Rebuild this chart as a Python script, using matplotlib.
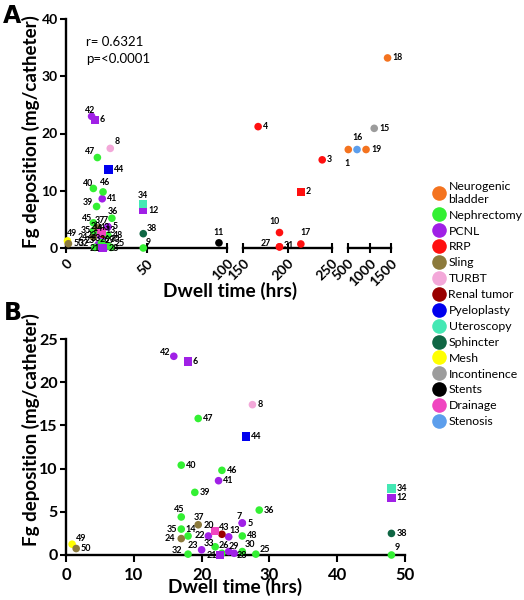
import matplotlib
matplotlib.use('Agg')
import matplotlib.pyplot as plt
from matplotlib.lines import Line2D

# ---------------- data ----------------
ids = list(range(1, 51))
dwell = [507, 215, 239, 167, 26.0, 18.0, 26.0, 27.5, 48.0, 191,
         95, 48.0, 24.0, 18.0, 1110, 710, 215, 1420, 920, 22.0,
         22.7, 21.0, 20.0, 17.0, 28.0, 23.0, 191, 24.8, 24.0, 26.0,
         191, 18.0, 22.0, 48.0, 17.0, 28.5, 19.5, 48.0, 19.0, 17.0,
         22.5, 15.9, 23.0, 26.5, 17.0, 23.0, 19.5, 26.0, 0.9, 1.5]
fg = [17.2, 9.8, 15.4, 21.2, 3.7, 22.4, 3.7, 17.4, 0.0, 2.7,
      0.9, 6.6, 2.1, 2.2, 20.9, 17.2, 0.7, 33.2, 17.2, 2.8,
      0.0, 2.2, 0.6, 1.9, 0.1, 0.2, 0.2, 0.2, 0.4, 0.4,
      0.2, 0.1, 0.95, 7.7, 3.0, 5.2, 3.5, 2.5, 7.25, 10.4,
      8.6, 23.0, 2.4, 13.7, 4.4, 9.8, 15.8, 2.2, 1.25, 0.75]
procedure = ["Neurogenic bladder", "RRP", "RRP", "RRP", "PCNL", "PCNL", "PCNL", "TURBT", "Nephrectomy", "RRP",
             "Stents", "PCNL", "PCNL", "Nephrectomy", "Incontinence", "Stenosis", "RRP", "Neurogenic bladder", "Neurogenic bladder", "Drainage",
             "PCNL", "PCNL", "PCNL", "Sling", "Nephrectomy", "Nephrectomy", "RRP", "PCNL", "PCNL", "Nephrectomy",
             "RRP", "Nephrectomy", "Nephrectomy", "Uteroscopy", "Nephrectomy", "Nephrectomy", "Sling", "Sphincter", "Nephrectomy", "Nephrectomy",
             "PCNL", "PCNL", "Renal tumor", "Pyeloplasty", "Nephrectomy", "Nephrectomy", "Nephrectomy", "Nephrectomy", "Mesh", "Sling"]
square_ids = [2, 6, 12, 20, 21, 34, 44]

categories = ["Neurogenic bladder", "Nephrectomy", "PCNL", "RRP", "Sling", "TURBT",
              "Renal tumor", "Pyeloplasty", "Uteroscopy", "Sphincter", "Mesh",
              "Incontinence", "Stents", "Drainage", "Stenosis"]
legend_labels = ["Neurogenic\nbladder", "Nephrectomy", "PCNL", "RRP", "Sling", "TURBT",
                 "Renal tumor", "Pyeloplasty", "Uteroscopy", "Sphincter", "Mesh",
                 "Incontinence", "Stents", "Drainage", "Stenosis"]
cat_colors = ["#F4731F", "#33F033", "#A020E6", "#FF1010", "#8C7A3C", "#F3A8D9",
              "#990000", "#0000EE", "#44E8B4", "#0F6644", "#FFFF00",
              "#9C9C9C", "#000000", "#F045C0", "#5C9EEC"]

r_text = "r= 0.6321"
p_text = "p=<0.0001"

# ---------------- style ----------------
plt.rcParams['font.family'] = ['Lato', 'DejaVu Sans']
color_of = dict(zip(categories, cat_colors))
W, H = 524, 600

# label offsets (points): (dx, dy, ha)
off_B = {42: (-2.5, 3, 'right'), 7: (-2, 4.5, 'center'), 45: (-1.5, 5.5, 'center'),
         37: (0.5, 5.5, 'center'), 35: (-2.6, 0, 'right'), 14: (1.7, 5, 'center'),
         20: (-4.3, 3.6, 'center'), 43: (1.6, 5, 'center'), 13: (4, 4.3, 'center'),
         22: (-2.4, 0, 'right'), 24: (-4.3, 0, 'right'), 23: (-6, 3, 'center'),
         33: (-4.3, 2.7, 'center'), 26: (1.2, 5.3, 'center'), 29: (3.8, 3.4, 'center'),
         28: (2, -1.5, 'left'), 21: (-2, -0.5, 'right'), 30: (5.3, 4.8, 'center'),
         25: (6.5, 3, 'center'), 32: (-4, 2.9, 'right'), 49: (6.7, 4.3, 'center'),
         9: (4, 5.5, 'center')}
off_A = dict(off_B)
off_A.update({42: (-1.4, 4.3, 'center'), 47: (-5.5, 4.5, 'center'), 8: (4.8, 4.8, 'center'),
              40: (-3.8, 3.6, 'center'), 46: (1.4, 6.7, 'center'), 39: (-2.4, 2.9, 'right'),
              36: (0.7, 5, 'center'), 45: (-4.8, 3.2, 'center'), 37: (1.7, 5.3, 'center'),
              35: (-2, 0, 'right'), 49: (3, 5.5, 'center'), 34: (0, 6, 'center'),
              38: (6, 3.6, 'center'), 9: (3.6, 4.3, 'center'), 11: (0, 7.5, 'center'),
              10: (-3.4, 8, 'center'), 27: (-6, 2.5, 'right'), 31: (3.3, 1.2, 'left'),
              17: (3.4, 8, 'center'), 16: (0, 9, 'center'), 1: (-0.7, -9.8, 'center')})


def style_axis(ax, show_left, xtick_size, ytick_size, direction):
    for s in ['top', 'right']:
        ax.spines[s].set_visible(False)
    ax.spines['left'].set_visible(show_left)
    for s in ['left', 'bottom']:
        ax.spines[s].set_linewidth(1.7)
        ax.spines[s].set_color('black')
    ax.tick_params(axis='x', direction=direction, width=1.5, length=5 if direction == 'out' else 7,
                   labelsize=xtick_size)
    ax.tick_params(axis='y', direction='out', width=1.5, length=4, pad=2, labelsize=ytick_size)
    if not show_left:
        ax.tick_params(axis='y', left=False, labelleft=False)
    for lab in ax.get_xticklabels() + ax.get_yticklabels():
        lab.set_fontweight('bold')


def draw_points(ax, xlo, xhi, offsets, s_circ, s_sq, fsize):
    for marker, s in (('o', s_circ), ('s', s_sq)):
        xs, ys, cs = [], [], []
        for i, x, y, p in zip(ids, dwell, fg, procedure):
            if not (xlo <= x <= xhi):
                continue
            if (i in square_ids) != (marker == 's'):
                continue
            xs.append(x); ys.append(y); cs.append(color_of[p])
        if xs:
            ax.scatter(xs, ys, c=cs, marker=marker, s=s, linewidths=0, zorder=3, clip_on=False)
    for i, x, y in zip(ids, dwell, fg):
        if not (xlo <= x <= xhi):
            continue
        dx, dy, ha = offsets.get(i, (3.5, 0, 'left'))
        ax.annotate(str(i), (x, y), xytext=(dx, dy), textcoords='offset points',
                    ha=ha, va='center', fontsize=fsize, fontweight='bold',
                    annotation_clip=False, zorder=4)


fig = plt.figure(figsize=(W / 100, H / 100), dpi=100)

# ---------------- Panel A (broken x axis) ----------------
segA = [(0, 100, 66, 227), (150, 250, 243, 332), (500, 1500, 348, 391)]
ticksA = [[0, 50, 100], [150, 200, 250], [500, 1000, 1500]]
yA0, yA1 = 248, 19
for k, ((lo, hi, p0, p1), tk) in enumerate(zip(segA, ticksA)):
    ax = fig.add_axes([p0 / W, 1 - yA0 / H, (p1 - p0) / W, (yA0 - yA1) / H])
    ax.set_xlim(lo, hi)
    ax.set_ylim(0, 40)
    ax.set_xticks(tk)
    ax.set_xticklabels([str(t) for t in tk], rotation=45, ha='right', va='top',
                       rotation_mode='anchor')
    ax.set_yticks([0, 10, 20, 30, 40])
    ax.patch.set_visible(False)
    style_axis(ax, k == 0, 10, 10, 'inout')
    ax.tick_params(axis='x', pad=3)
    draw_points(ax, lo, hi, off_A, 30, 36, 6.3)
    if k == 0:
        ax.text((86 - p0) / (p1 - p0), 1 - (42 - yA1) / (yA0 - yA1), r_text,
                transform=ax.transAxes, fontsize=9.5, va='center', ha='left')
        ax.text((86 - p0) / (p1 - p0), 1 - (59 - yA1) / (yA0 - yA1), p_text,
                transform=ax.transAxes, fontsize=9.5, va='center', ha='left')

fig.text(31 / W, 1 - 132 / H, "Fg deposition (mg/catheter)", rotation=90, ha='center',
         va='center', fontsize=13.5, fontweight='bold')
fig.text(230 / W, 1 - 291 / H, "Dwell time (hrs)", ha='center', va='center',
         fontsize=13.8, fontweight='bold')
fig.text(12 / W, 1 - 16 / H, "A", ha='center', va='center', fontsize=17, fontweight='heavy',
         family=['Liberation Sans Narrow', 'DejaVu Sans'])

# ---------------- Panel B ----------------
axB = fig.add_axes([66 / W, 1 - 555 / H, 339 / W, 216 / H])
axB.set_xlim(0, 50)
axB.set_ylim(0, 25)
axB.set_xticks([0, 10, 20, 30, 40, 50])
axB.set_yticks([0, 5, 10, 15, 20, 25])
axB.patch.set_visible(False)
style_axis(axB, True, 12, 11.5, 'out')
draw_points(axB, 0, 50, off_B, 30, 36, 6.5)

fig.text(31 / W, 1 - 430 / H, "Fg deposition (mg/catheter)", rotation=90, ha='center',
         va='center', fontsize=13.5, fontweight='bold')
fig.text(235 / W, 1 - 587 / H, "Dwell time (hrs)", ha='center', va='center',
         fontsize=13.8, fontweight='bold')
fig.text(13 / W, 1 - 313 / H, "B", ha='center', va='center', fontsize=17, fontweight='heavy',
         family=['Liberation Sans Narrow', 'DejaVu Sans'])

# ---------------- Legend ----------------
handles = [Line2D([], [], marker='o', linestyle='none', markersize=10.5,
                  markerfacecolor=c, markeredgewidth=0) for c in cat_colors]
fig.legend(handles, legend_labels, loc='upper left', bbox_to_anchor=(432 / W, 1 - 181 / H),
           frameon=False, fontsize=8.8, handletextpad=0.25, labelspacing=0.4,
           handlelength=1.1, borderpad=0, borderaxespad=0)

fig.savefig('out.png', dpi=100)
